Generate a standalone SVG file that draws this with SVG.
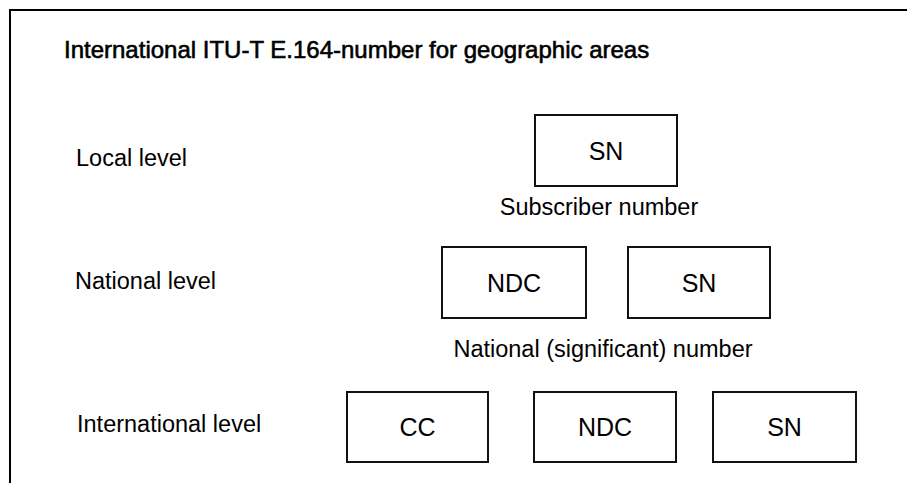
<svg xmlns="http://www.w3.org/2000/svg" width="907" height="483" viewBox="0 0 907 483">
<style>
text{font-family:"Liberation Sans",Arial,sans-serif;fill:#000}
.title{font-size:24px;stroke:#000;stroke-width:0.6px}
.lbl{font-size:23.5px}
.box rect{fill:#fff;stroke:#111;stroke-width:2}
.box text{font-size:25px;text-anchor:middle}
.cap{text-anchor:middle}
</style>
<rect x="10" y="10" width="905" height="485" fill="#fff" stroke="#000" stroke-width="2"/>
<text class="title" x="64" y="58">International ITU-T E.164-number for geographic areas</text>
<text class="lbl" x="76" y="166">Local level</text>
<text class="lbl" x="75" y="289">National level</text>
<text class="lbl" x="77" y="432">International level</text>
<g id="local-sn" class="box"><rect x="535" y="115" width="142" height="71"/><text x="606" y="160">SN</text></g>
<text class="lbl cap" x="599" y="215">Subscriber number</text>
<g id="nat-ndc" class="box"><rect x="442" y="247" width="144" height="71"/><text x="514" y="292">NDC</text></g>
<g id="nat-sn" class="box"><rect x="628" y="247" width="142" height="71"/><text x="699" y="292">SN</text></g>
<text class="lbl cap" x="603" y="357">National (significant) number</text>
<g id="int-cc" class="box"><rect x="347" y="392" width="141" height="70"/><text x="417.5" y="436">CC</text></g>
<g id="int-ndc" class="box"><rect x="534" y="392" width="142" height="70"/><text x="605" y="436">NDC</text></g>
<g id="int-sn" class="box"><rect x="713" y="392" width="143" height="70"/><text x="784.5" y="436">SN</text></g>
<g id="connectors"/>
</svg>
